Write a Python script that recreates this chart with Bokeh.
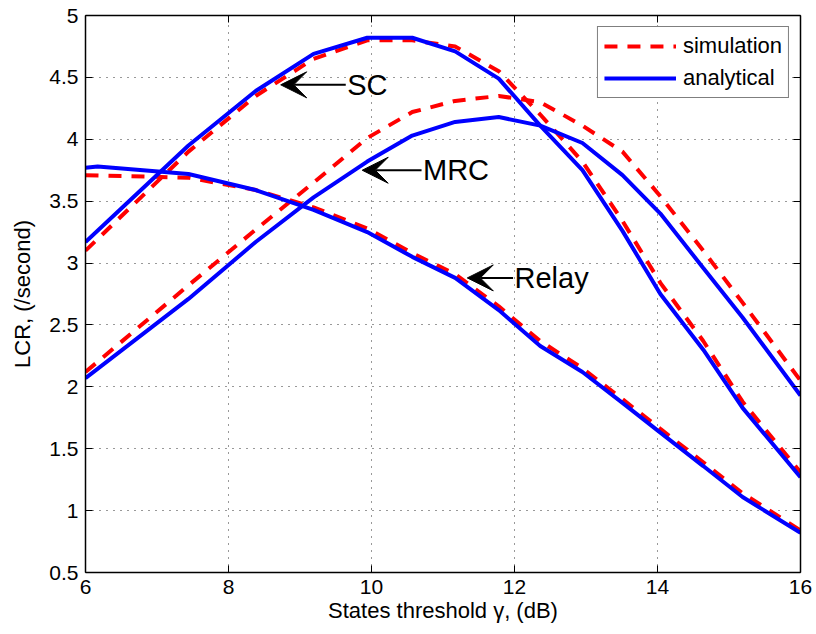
from bokeh.plotting import figure
from bokeh.models import (FixedTicker, LinearAxis, Range1d, Legend, LegendItem,
                          Arrow, VeeHead, Label)
from bokeh.embed import file_html
from bokeh.resources import INLINE

# ---------------- data ----------------
gamma_db = [6.0, 7.44, 8.38, 9.19, 9.94, 10.57, 11.17, 11.78, 12.36, 12.95,
            13.51, 14.04, 14.64, 15.19, 16.0]

sc_sim = [3.10, 3.90, 4.35, 4.65, 4.80, 4.80, 4.75, 4.55, 4.20, 3.82,
          3.34, 2.84, 2.37, 1.88, 1.31]
sc_ana = [3.17, 3.95, 4.39, 4.69, 4.82, 4.82, 4.71, 4.49, 4.11, 3.75,
          3.26, 2.75, 2.30, 1.83, 1.27]

mrc_sim = [2.12, 2.82, 3.27, 3.65, 4.01, 4.22, 4.31, 4.35, 4.30, 4.11,
           3.90, 3.54, 3.10, 2.68, 2.05]
mrc_ana = [2.07, 2.71, 3.17, 3.53, 3.82, 4.03, 4.14, 4.18, 4.11, 3.97,
           3.71, 3.40, 2.96, 2.56, 1.93]

relay_sim = [3.71, 3.69, 3.59, 3.45, 3.28, 3.08, 2.91, 2.65, 2.37, 2.15,
             1.90, 1.66, 1.39, 1.14, 0.84]
relay_ana_x = [6.0, 6.17, 7.44, 8.38, 9.19, 9.94, 10.57, 11.17, 11.78, 12.36,
               12.95, 13.51, 14.04, 14.64, 15.19, 16.0]
relay_ana = [3.77, 3.78, 3.72, 3.59, 3.43, 3.25, 3.05, 2.88, 2.62, 2.33,
             2.12, 1.87, 1.63, 1.36, 1.11, 0.82]

x_ticks = [6, 8, 10, 12, 14, 16]
x_tick_labels = ["6", "8", "10", "12", "14", "16"]
y_ticks = [0.5, 1, 1.5, 2, 2.5, 3, 3.5, 4, 4.5, 5]
y_tick_labels = ["0.5", "1", "1.5", "2", "2.5", "3", "3.5", "4", "4.5", "5"]

series_names = ["simulation", "analytical"]
# annotations: (text, text_x, text_y, arrow_tip_x)
annotations = [("SC", 9.66, 4.44, 8.73),
               ("MRC", 10.72, 3.75, 9.87),
               ("Relay", 12.0, 2.88, 11.34)]

FONT = "Liberation Sans"
RED = "#FF0000"
BLUE = "#0000FF"

p = figure(width=816, height=634, x_range=Range1d(6, 16), y_range=Range1d(0.5, 5),
           output_backend="svg", toolbar_location=None,
           min_border_left=85, min_border_right=16, min_border_top=15,
           min_border_bottom=62)
p.background_fill_color = "white"
p.border_fill_color = "white"
p.outline_line_color = None

# grid
for g, t in ((p.xgrid, x_ticks), (p.ygrid, y_ticks)):
    g.ticker = FixedTicker(ticks=t)
    g.grid_line_color = "#333333"
    g.grid_line_dash = "1 6"
    g.grid_line_width = 1

# curves
r_sim = []
r_ana = []
for ys in (sc_sim, mrc_sim, relay_sim):
    r_sim.append(p.line(gamma_db, ys, line_color=RED, line_width=4, line_dash="13 10"))
for xs, ys in ((gamma_db, sc_ana), (gamma_db, mrc_ana), (relay_ana_x, relay_ana)):
    r_ana.append(p.line(xs, ys, line_color=BLUE, line_width=4))

def style_axis(ax, ticks, labels, show_labels=True):
    ax.ticker = FixedTicker(ticks=ticks)
    ax.major_label_overrides = {t: l for t, l in zip(ticks, labels)}
    ax.axis_line_color = "black"
    ax.axis_line_width = 1.5
    ax.major_tick_in = 7
    ax.major_tick_out = 0
    ax.major_tick_line_color = "black"
    ax.major_tick_line_width = 1
    ax.minor_tick_line_color = None
    ax.major_label_text_font = FONT
    ax.major_label_text_color = "black"
    if show_labels:
        ax.major_label_text_font_size = "21px"
        ax.major_label_standoff = 7
    else:
        ax.major_label_text_font_size = "0px"
        ax.major_label_standoff = 0

style_axis(p.xaxis[0], x_ticks, x_tick_labels)
style_axis(p.yaxis[0], y_ticks, y_tick_labels)
p.xaxis[0].axis_label = "States threshold \u03b3, (dB)"
p.yaxis[0].axis_label = "LCR, (/second)"
for ax, st in ((p.xaxis[0], 1), (p.yaxis[0], 11)):
    ax.axis_label_text_font = FONT
    ax.axis_label_text_font_size = "22px"
    ax.axis_label_text_font_style = "normal"
    ax.axis_label_text_color = "black"
    ax.axis_label_standoff = st

top_ax = LinearAxis()
style_axis(top_ax, x_ticks, ["" for _ in x_ticks], show_labels=False)
p.add_layout(top_ax, "above")
right_ax = LinearAxis()
style_axis(right_ax, y_ticks, ["" for _ in y_ticks], show_labels=False)
p.add_layout(right_ax, "right")

# annotations
for txt, tx, ty, ax_tip in annotations:
    p.add_layout(Arrow(end=VeeHead(size=26, fill_color="black", line_color="black",
                                   line_width=1),
                       x_start=tx - 0.02, y_start=ty, x_end=ax_tip, y_end=ty,
                       line_color="black", line_width=2))
    p.add_layout(Label(x=tx, y=ty, text=txt, text_font=FONT, text_font_size="29px",
                       text_baseline="middle", text_align="left", text_color="black"))

legend = Legend(items=[LegendItem(label=series_names[0], renderers=[r_sim[0]]),
                       LegendItem(label=series_names[1], renderers=[r_ana[0]])],
                location="top_right")
legend.margin = 11
legend.padding = 6
legend.spacing = 6
legend.label_height = 22
legend.glyph_height = 22
legend.glyph_width = 72
legend.label_standoff = 7
legend.label_text_font = FONT
legend.label_text_font_size = "22px"
legend.label_text_color = "black"
legend.border_line_color = "black"
legend.border_line_width = 1.5
legend.background_fill_color = "white"
legend.background_fill_alpha = 1
p.add_layout(legend, "center")

open("out.html", "w").write(file_html(p, INLINE))
